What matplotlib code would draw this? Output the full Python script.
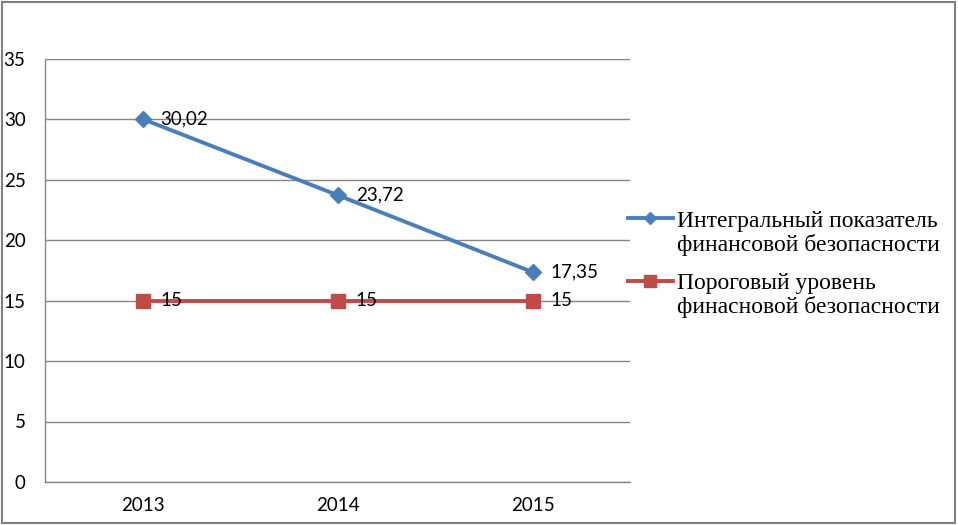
import matplotlib
matplotlib.use("Agg")
import matplotlib.pyplot as plt
from matplotlib.patches import Rectangle

years = ["2013", "2014", "2015"]
integral = [30.02, 23.72, 17.35]
threshold = [15, 15, 15]
integral_labels = ["30,02", "23,72", "17,35"]
threshold_labels = ["15", "15", "15"]
legend_first = ["Интегральный показатель", "Пороговый уровень"]
legend_second = ["финансовой безопасности", "финасновой безопасности"]

blue = "#4A7EBB"
red = "#BE4B48"
grid_col = "#868686"

plt.rcParams["font.family"] = ["Lato", "DejaVu Sans"]

fig = plt.figure(figsize=(9.58, 5.25), dpi=100)
ax = fig.add_axes([0.047, 0.082, 0.611, 0.806])

x = list(range(len(years)))
l1, = ax.plot(x, integral, color=blue, lw=2.8, marker="D", ms=8.5, zorder=3)
l2, = ax.plot(x, threshold, color=red, lw=2.8, marker="s", ms=9.5, zorder=3)

for i in x:
    ax.annotate(integral_labels[i], (i, integral[i]), xytext=(13, 0),
                textcoords="offset points", va="center", ha="left", fontsize=13.5)
    ax.annotate(threshold_labels[i], (i, threshold[i]), xytext=(13, 0),
                textcoords="offset points", va="center", ha="left", fontsize=13.5)

ax.set_xlim(-0.5, 2.5)
ax.set_ylim(0, 35)
ax.set_yticks(range(0, 36, 5))
ax.set_xticks(x)
ax.set_xticklabels(years)
ax.tick_params(length=0, labelsize=13.5, pad=11)
ax.tick_params(axis="y", pad=14)
ax.grid(axis="y", color=grid_col, lw=1)
ax.set_axisbelow(True)
for s in ["top", "right"]:
    ax.spines[s].set_visible(False)
for s in ["left", "bottom"]:
    ax.spines[s].set_color(grid_col)
    ax.spines[s].set_linewidth(1)

# legend handle sits next to the first line of each label
h1, = ax.plot([], [], color=blue, lw=2.8, marker="D", ms=6.5)
h2, = ax.plot([], [], color=red, lw=2.8, marker="s", ms=8)
serif = {"family": "Liberation Serif", "size": 17}
leg = fig.legend([h1, h2], legend_first, loc="upper left", bbox_to_anchor=(0.6555, 0.6),
                 frameon=False, prop=serif, handlelength=1.9, handletextpad=0.17,
                 labelspacing=1.75, borderpad=0, borderaxespad=0)

fig.canvas.draw()
for t, extra in zip(leg.get_texts(), legend_second):
    px, py = t.get_transform().transform(t.get_position())
    fig.text(px / fig.bbox.width, (py - 24) / fig.bbox.height, extra,
             ha="left", va="baseline", family="Liberation Serif", size=17)

fig.patches.append(Rectangle((0.002, 0.004), 0.995, 0.993, transform=fig.transFigure,
                             fill=False, edgecolor="#808080", lw=1.5))

fig.savefig("out.png", dpi=100)
